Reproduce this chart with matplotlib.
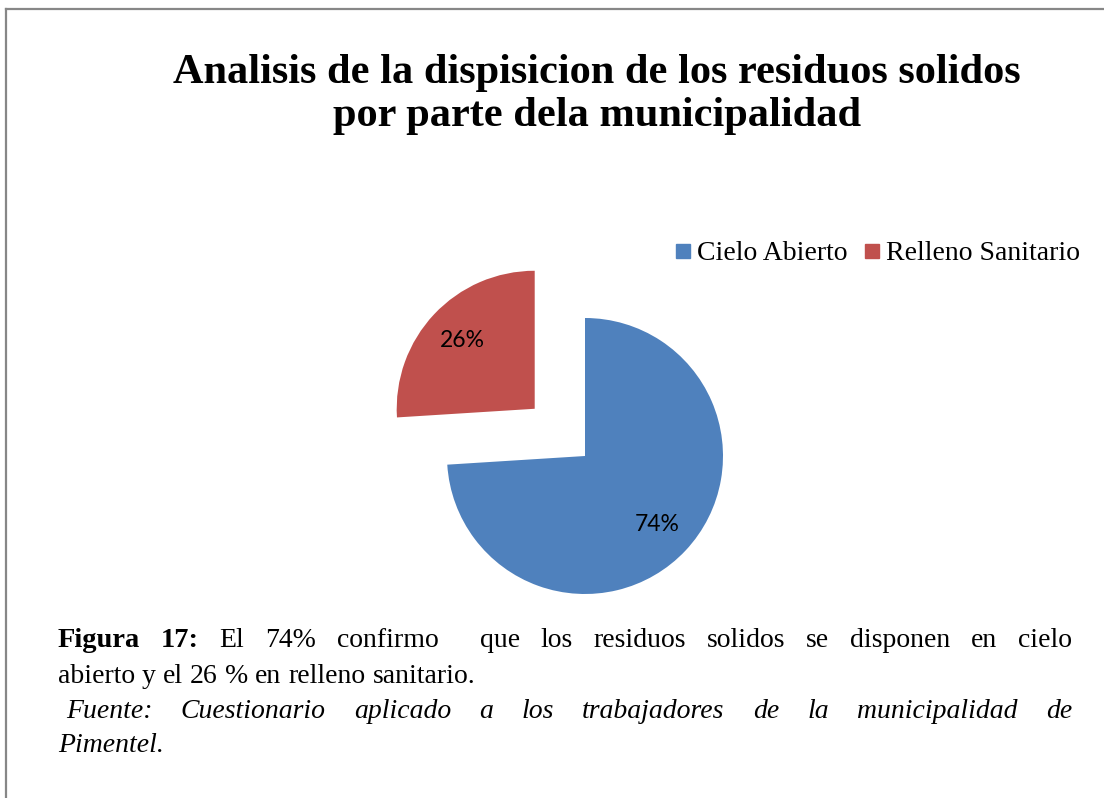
import matplotlib
matplotlib.use("Agg")
import matplotlib.pyplot as plt
from matplotlib.patches import Rectangle
from matplotlib.lines import Line2D

# ---- data ----
categories = ["Cielo Abierto", "Relleno Sanitario"]
values = [74, 26]
colors = ["#4F81BD", "#C0504D"]
explode = [0, 0.5]
title_lines = ["Analisis de la dispisicion de los residuos solidos",
               "por parte dela municipalidad"]
caption_bold = "Figura 17:"
caption_text = ["El 74% confirmo  que los residuos solidos se disponen en cielo",
                "abierto y el 26 % en relleno sanitario."]
source_text = ["Fuente: Cuestionario aplicado a los trabajadores de la municipalidad de",
               "Pimentel."]

W, H = 1104, 798
fig = plt.figure(figsize=(W / 100, H / 100), dpi=100)
fig.patch.set_facecolor("white")
SERIF = ["Liberation Serif", "DejaVu Serif"]


def fx(x):
    return x / W


def fy(y):
    return 1 - y / H


# border (top and left visible)
fig.add_artist(Line2D([fx(6), 1], [fy(8.5), fy(8.5)], color="#878787", lw=1.6))
fig.add_artist(Line2D([fx(6), fx(6)], [fy(8.5), 0], color="#878787", lw=1.6))

# ---- title ----
fig.text(fx(597), fy(83), title_lines[0], ha="center", va="baseline",
         fontsize=30.5, fontweight="bold", family=SERIF)
fig.text(fx(597), fy(126), title_lines[1], ha="center", va="baseline",
         fontsize=30.5, fontweight="bold", family=SERIF)

# ---- pie ----
cx, cy, R = 585, 456, 138
half = 200
ax = fig.add_axes([fx(cx - half), fy(cy + half), 2 * half / W, 2 * half / H])
L = half / R
wedges, texts, autotexts = ax.pie(values, colors=colors, explode=explode,
                                  startangle=90, counterclock=False,
                                  autopct="%1.0f%%", pctdistance=0.72,
                                  wedgeprops=dict(linewidth=0),
                                  textprops=dict(fontsize=16.5, family=["Lato", "DejaVu Sans"],
                                                 color="black"),
                                  frame=True)
ax.set_xlim(-L, L)
ax.set_ylim(-L, L)
ax.axis("off")

# ---- legend ----
renderer = fig.canvas.get_renderer()
x = 676
for cat, col in zip(categories, colors):
    fig.add_artist(Rectangle((fx(x), fy(258)), 14 / W, 14 / H, color=col,
                             transform=fig.transFigure))
    t = fig.text(fx(x + 21), fy(260), cat, ha="left", va="baseline",
                 fontsize=20, family=SERIF)
    w = t.get_window_extent(renderer).width
    x = x + 21 + w + 17


# ---- justified caption ----
def width_of(s, **kw):
    t = fig.text(0, 0, s, **kw)
    w = t.get_window_extent(renderer).width
    t.remove()
    return w


def draw_line(text_runs, x0, x1, base, justify):
    # text_runs: list of (string, kwargs); a double space counts as a double gap
    words, weights = [], []
    for s, kw in text_runs:
        parts = s.split(" ")
        for p in parts:
            if p == "":
                if weights:
                    weights[-1] += 1
                continue
            words.append((p, kw))
            weights.append(1)
    weights = weights[:-1]
    widths = [width_of(wd, **kw) for wd, kw in words]
    kw0 = words[-1][1]
    space = width_of("a a", **kw0) - width_of("aa", **kw0)
    if justify and len(words) > 1:
        unit = (x1 - x0 - sum(widths)) / sum(weights)
    else:
        unit = space
    x = x0
    for i, ((wd, kw), w) in enumerate(zip(words, widths)):
        fig.text(fx(x), fy(base), wd, ha="left", va="baseline", **kw)
        if i < len(weights):
            x += w + unit * weights[i]


cap_kw = dict(fontsize=20, family=SERIF)
bold_kw = dict(fontsize=20.5, family=SERIF, fontweight="bold")
ital_kw = dict(fontsize=20, family=SERIF, style="italic")

draw_line([(caption_bold, bold_kw), (caption_text[0], cap_kw)], 58, 1072, 647, True)
draw_line([(caption_text[1], cap_kw)], 58, 1072, 683, False)
draw_line([(source_text[0], ital_kw)], 66, 1072, 718, True)
draw_line([(source_text[1], ital_kw)], 58, 1072, 752, False)

fig.savefig("out.png", dpi=100, facecolor="white")
